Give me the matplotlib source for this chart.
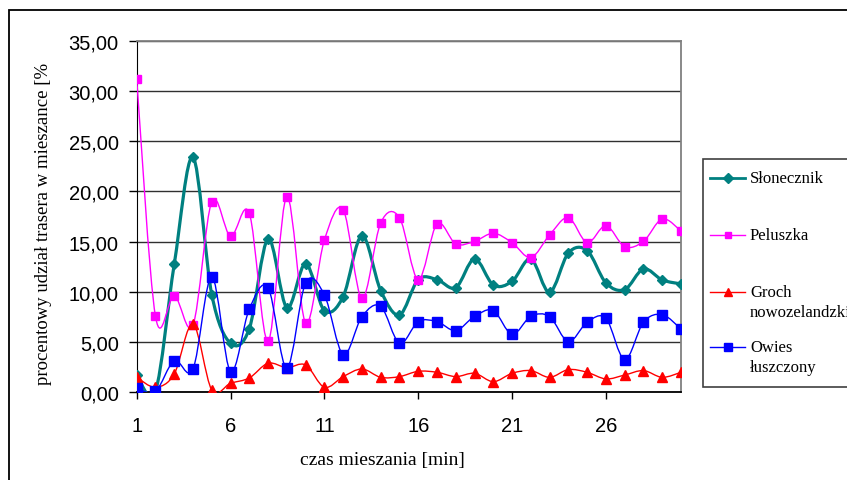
import numpy as np
import matplotlib.pyplot as plt
from matplotlib.path import Path
from matplotlib.patches import PathPatch, Rectangle
from matplotlib.lines import Line2D

# czas mieszania [min]
czas = list(range(1, 31))

slonecznik = [1.76, 0.10, 12.74, 23.38, 9.72, 4.88, 6.33, 15.26, 8.42, 12.80,
              8.13, 9.52, 15.59, 10.12, 7.69, 11.21, 11.21, 10.41, 13.27, 10.68,
              11.04, 13.27, 9.95, 13.86, 14.10, 10.88, 10.22, 12.27, 11.18, 10.78]
peluszka = [31.18, 7.56, 9.62, 6.70, 18.97, 15.52, 17.81, 5.07, 19.47, 6.90,
            15.16, 18.18, 9.35, 16.85, 17.38, 11.21, 16.75, 14.76, 15.02, 15.82,
            14.89, 13.40, 15.66, 17.38, 14.89, 16.58, 14.49, 15.02, 17.25, 16.05]
groch = [1.49, 0.50, 1.82, 6.80, 0.23, 0.90, 1.43, 2.89, 2.45, 2.72,
         0.50, 1.56, 2.32, 1.49, 1.56, 2.09, 1.99, 1.56, 1.89, 1.06,
         1.89, 2.16, 1.49, 2.26, 1.99, 1.33, 1.72, 2.16, 1.49, 1.99]
owies = [0.40, 0.10, 3.15, 2.32, 11.48, 2.06, 8.29, 10.41, 2.42, 10.88,
         9.69, 3.75, 7.53, 8.56, 4.88, 7.03, 7.03, 6.14, 7.56, 8.13,
         5.77, 7.56, 7.53, 5.04, 6.97, 7.36, 3.25, 6.97, 7.73, 6.30]

nazwy = ['Słonecznik', 'Peluszka', 'Groch\nnowozelandzki', 'Owies\nłuszczony']
yticks = [0, 5, 10, 15, 20, 25, 30, 35]
ytick_labels = ['0,00', '5,00', '10,00', '15,00', '20,00', '25,00', '30,00', '35,00']
xticks = [1, 6, 11, 16, 21, 26]

SANS = 'Liberation Sans'
SERIF = 'Liberation Serif'

W, H = 847, 481


def px(x, y):
    # pixel position -> figure fraction
    return x / W, 1 - y / H


def smooth_path(x, y):
    """Wygładzona linia jak w Excelu (krzywe Beziera, Catmull-Rom)."""
    x = np.asarray(x, float)
    y = np.asarray(y, float)
    verts = [(x[0], y[0])]
    codes = [Path.MOVETO]
    n = len(x)
    for i in range(n - 1):
        p0 = np.array([x[max(i - 1, 0)], y[max(i - 1, 0)]])
        p1 = np.array([x[i], y[i]])
        p2 = np.array([x[i + 1], y[i + 1]])
        p3 = np.array([x[min(i + 2, n - 1)], y[min(i + 2, n - 1)]])
        c1 = p1 + (p2 - p0) / 6
        c2 = p2 - (p3 - p1) / 6
        verts += [tuple(c1), tuple(c2), tuple(p2)]
        codes += [Path.CURVE4] * 3
    return Path(verts, codes)


fig = plt.figure(figsize=(W / 100, H / 100), dpi=100)
ax = fig.add_axes([136.7 / W, 1 - 393.3 / H, (681 - 136.7) / W, (393.3 - 41.5) / H])

styles = [
    (slonecznik, '#008080', 2.3, 'D', 5.0),
    (peluszka, '#FF00FF', 1.0, 's', 5.2),
    (groch, '#FF0000', 1.0, '^', 6.5),
    (owies, '#0000FF', 1.0, 's', 6.8),
]

for k, (vals, col, lw, mk, ms) in enumerate(styles):
    z = 3 + 2 * k
    ax.add_patch(PathPatch(smooth_path(czas, vals), facecolor='none', edgecolor=col,
                           lw=lw, zorder=z, capstyle='round', joinstyle='round'))
    ax.plot(czas, vals, ls='none', marker=mk, ms=ms, color=col, mec=col, zorder=z + 0.5)

ax.set_xlim(1, 30)
ax.set_ylim(0, 35)
ax.set_yticks(yticks)
ax.set_yticklabels(ytick_labels)
ax.set_xticks(xticks)
ax.yaxis.grid(True, color='#303030', lw=1.0)
ax.set_axisbelow(True)

for lab in ax.get_xticklabels() + ax.get_yticklabels():
    lab.set_fontfamily(SANS)
    lab.set_fontsize(14.5)
ax.tick_params(axis='y', direction='out', length=6, width=1, pad=7, colors='black')
ax.tick_params(axis='x', direction='out', length=5, width=1, pad=12, colors='black')

ax.spines['left'].set_color('black')
ax.spines['bottom'].set_color('black')
ax.spines['bottom'].set_linewidth(1.3)
ax.spines['top'].set_color('#808080')
ax.spines['right'].set_color('#808080')
ax.spines['top'].set_linewidth(1.3)
ax.spines['right'].set_linewidth(1.3)

# opisy osi
fig.text(*px(43.5, 224), 'procentowy udział trasera w mieszance [%', rotation=90,
         family=SERIF, fontsize=13.5, ha='center', va='center')
fig.text(*px(382, 461), 'czas mieszania [min]', family=SERIF, fontsize=14,
         ha='center', va='center')

# ramka wykresu
x0, y0 = px(9, 11)
fig.add_artist(Rectangle((x0, -0.1), 1.2, y0 + 0.1, transform=fig.transFigure,
                         facecolor='none', edgecolor='black', lw=1.3))

# legenda
lx0, ly0 = px(703, 160)
lx1, ly1 = px(900, 388)
fig.add_artist(Rectangle((lx0, ly1), lx1 - lx0, ly0 - ly1, transform=fig.transFigure,
                         facecolor='white', edgecolor='#404040', lw=1.2, zorder=5))
entry_y = [179, 235.7, 292.7, 348]
for (vals, col, lw, mk, ms), name, ey in zip(styles, nazwy, entry_y):
    ha, hb = px(710, ey), px(745, ey)
    fig.add_artist(Line2D([ha[0], hb[0]], [ha[1], hb[1]], transform=fig.transFigure,
                          color=col, lw=min(lw, 2.0), zorder=6))
    mx = px(727.5, ey)
    fig.add_artist(Line2D([mx[0]], [mx[1]], transform=fig.transFigure, ls='none',
                          marker=mk, ms=ms * 0.95, color=col, zorder=7))
    for j, line in enumerate(name.split('\n')):
        tx, ty = px(750, ey + 20.5 * j)
        fig.text(tx, ty, line, family=SERIF, fontsize=12, ha='left', va='center', zorder=8)

fig.savefig('out.png', dpi=100)
